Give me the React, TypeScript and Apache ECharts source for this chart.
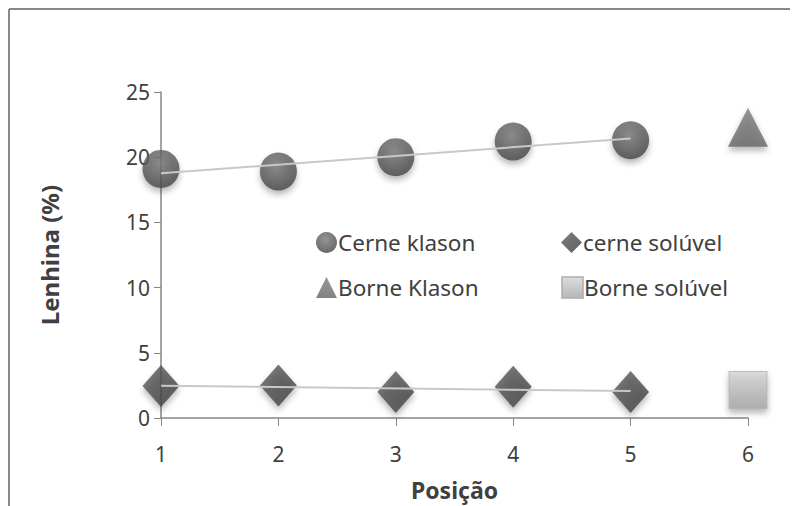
import React, { useEffect, useRef } from "react";
import * as echarts from "echarts";

const positions = [1, 2, 3, 4, 5];
const cerneKlason = [19.1, 18.9, 20.0, 21.2, 21.3];
const cerneSoluvel = [2.45, 2.5, 2.0, 2.4, 2.0];
const borneX = [6];
const borneKlason = [22.3];
const borneSoluvel = [2.15];
const seriesNames = ["Cerne klason", "cerne solúvel", "Borne Klason", "Borne solúvel"];

function linearFit(xs: number[], ys: number[]) {
  const n = xs.length;
  const mx = xs.reduce((a, b) => a + b, 0) / n;
  const my = ys.reduce((a, b) => a + b, 0) / n;
  let sxy = 0, sxx = 0;
  for (let i = 0; i < n; i++) {
    sxy += (xs[i] - mx) * (ys[i] - my);
    sxx += (xs[i] - mx) * (xs[i] - mx);
  }
  const slope = sxy / sxx;
  const b = my - slope * mx;
  const x0 = xs[0], x1 = xs[n - 1];
  return [[x0, b + slope * x0], [x1, b + slope * x1]];
}

const FONT = "'Noto Sans', 'Open Sans', sans-serif";

export default function App() {
  const ref = useRef<HTMLDivElement>(null);
  useEffect(() => {
    if (!ref.current) return;
    const chart = echarts.init(ref.current, null, { renderer: "svg" });
    const shadow = { shadowBlur: 6, shadowColor: "rgba(0,0,0,0.35)", shadowOffsetY: 4 };
    const circleColor = new echarts.graphic.RadialGradient(0.45, 0.35, 0.75, [
      { offset: 0, color: "#7a7a7a" },
      { offset: 1, color: "#3c3c3c" },
    ]);
    const diamondColor = new echarts.graphic.LinearGradient(0, 0, 1, 1, [
      { offset: 0, color: "#5e5e5e" },
      { offset: 1, color: "#383838" },
    ]);
    const triColor = new echarts.graphic.LinearGradient(0, 0, 0, 1, [
      { offset: 0, color: "#7c7c7c" },
      { offset: 1, color: "#646464" },
    ]);
    const sqColor = new echarts.graphic.LinearGradient(0, 0, 0, 1, [
      { offset: 0, color: "#d4d4d4" },
      { offset: 1, color: "#a4a4a4" },
    ]);
    const legendBase = {
      itemWidth: 21,
      itemHeight: 21,
      itemGap: 0,
      textStyle: { fontFamily: FONT, fontSize: 22.5, color: "#404040", padding: [0, 0, 0, -4] },
      selectedMode: false,
    };
    chart.setOption({
      animation: false,
      backgroundColor: "#ffffff",
      textStyle: { fontFamily: FONT },
      grid: { left: 161, right: 52, top: 92, bottom: 88 },
      graphic: [
        { type: "line", shape: { x1: 9, y1: 9, x2: 790, y2: 9 }, style: { stroke: "#888888", lineWidth: 2 } },
        { type: "line", shape: { x1: 9, y1: 9, x2: 9, y2: 506 }, style: { stroke: "#888888", lineWidth: 2 } },
      ],
      legend: [
        { ...legendBase, data: [seriesNames[0]], left: 311, top: 226 },
        { ...legendBase, data: [seriesNames[1]], left: 556, top: 226 },
        { ...legendBase, data: [seriesNames[2]], left: 311, top: 271 },
        { ...legendBase, data: [seriesNames[3]], left: 556, top: 271 },
      ],
      xAxis: {
        type: "value",
        min: 1,
        max: 6,
        interval: 1,
        name: "Posição",
        nameLocation: "middle",
        nameGap: 60,
        nameTextStyle: { fontFamily: FONT, fontSize: 23, fontWeight: "bold", color: "#404040" },
        axisLine: { show: true, lineStyle: { color: "#868686", width: 1.5 } },
        axisTick: { show: true, length: 8, lineStyle: { color: "#868686" } },
        axisLabel: { fontFamily: FONT, fontSize: 21, color: "#404040", margin: 25 },
        splitLine: { show: false },
      },
      yAxis: {
        type: "value",
        min: 0,
        max: 25,
        interval: 5,
        name: "Lenhina (%)",
        nameLocation: "middle",
        nameRotate: 90,
        nameGap: 100,
        nameTextStyle: { fontFamily: FONT, fontSize: 24, fontWeight: "bold", color: "#404040" },
        axisLine: { show: true, lineStyle: { color: "#868686", width: 1.5 } },
        axisTick: { show: true, length: 7, lineStyle: { color: "#868686" } },
        axisLabel: { fontFamily: FONT, fontSize: 21, color: "#404040", margin: 11 },
        splitLine: { show: false },
      },
      series: [
        {
          name: seriesNames[0],
          type: "scatter",
          symbol: "circle",
          symbolSize: [37, 38],
          itemStyle: { color: circleColor, ...shadow },
          data: positions.map((x, i) => [x, cerneKlason[i]]),
          z: 2,
        },
        {
          name: seriesNames[1],
          type: "scatter",
          symbol: "diamond",
          symbolSize: [37, 42],
          itemStyle: { color: diamondColor, ...shadow },
          data: positions.map((x, i) => [x, cerneSoluvel[i]]),
          z: 2,
        },
        {
          name: seriesNames[2],
          type: "scatter",
          symbol: "triangle",
          symbolSize: [40, 39],
          itemStyle: { color: triColor, ...shadow },
          data: borneX.map((x, i) => [x, borneKlason[i]]),
          z: 2,
        },
        {
          name: seriesNames[3],
          type: "scatter",
          symbol: "rect",
          symbolSize: [38, 37],
          itemStyle: { color: sqColor, borderColor: "#b0b0b0", borderWidth: 1, ...shadow },
          data: borneX.map((x, i) => [x, borneSoluvel[i]]),
          z: 2,
        },
        {
          name: "trend1",
          type: "line",
          symbol: "none",
          silent: true,
          lineStyle: { color: "#c8c8c8", width: 2 },
          data: linearFit(positions, cerneKlason),
          z: 5,
        },
        {
          name: "trend2",
          type: "line",
          symbol: "none",
          silent: true,
          lineStyle: { color: "#c8c8c8", width: 2 },
          data: linearFit(positions, cerneSoluvel),
          z: 5,
        },
      ],
    });
    return () => chart.dispose();
  }, []);
  return (
    <div
      ref={ref}
      style={{ position: "absolute", left: 0, top: 0, width: 800, height: 506 }}
    />
  );
}
